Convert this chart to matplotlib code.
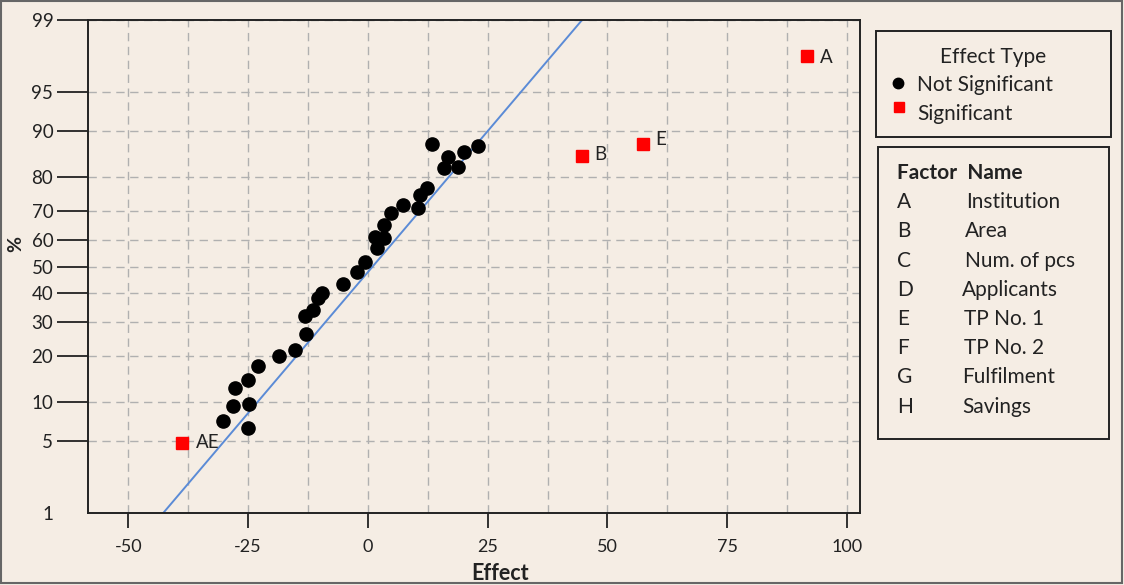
import numpy as np
import matplotlib
matplotlib.use("Agg")
import matplotlib.pyplot as plt
from matplotlib.patches import Rectangle
from statistics import NormalDist

# ---------------- data ----------------
ns_effect = [-30.3, -25.1, -28.2, -24.8, -27.7, -25.0, -23.0, -18.5, -15.1, -13.0,
             -13.1, -11.4, -10.5, -9.6, -5.1, -2.2, -0.6, 1.9, 1.5, 3.3,
             3.3, 4.9, 7.4, 10.4, 10.8, 12.4, 13.4, 15.8, 16.7, 18.8,
             20.0, 22.9]
ns_pct = [7.2, 6.4, 9.4, 9.8, 12.5, 14.2, 17.4, 19.9, 21.6, 26.1,
          32.0, 33.9, 38.4, 40.0, 43.6, 48.1, 51.7, 56.9, 61.0, 60.6,
          65.1, 69.3, 71.8, 71.0, 74.9, 77.2, 87.7, 82.4, 84.9, 82.7,
          86.0, 87.3]

sig_labels = ["A", "B", "E", "AE"]
sig_effect = [91.7, 44.7, 57.4, -38.7]
sig_pct = [97.65, 85.2, 87.7, 4.8]

line_effect = [-42.7, 44.7]
line_pct = [1, 99]

y_ticks = [1, 5, 10, 20, 30, 40, 50, 60, 70, 80, 90, 95, 99]
x_ticks = [-50, -25, 0, 25, 50, 75, 100]

factor_letters = ["A", "B", "C", "D", "E", "F", "G", "H"]
factor_names = ["Institution", "Area", "Num. of pcs", "Applicants",
                "TP No. 1", "TP No. 2", "Fulfilment", "Savings"]

# ---------------- style ----------------
BG = "#f5ede4"
INK = "#222222"
FONT = ["Lato", "DejaVu Sans"]
plt.rcParams["font.family"] = FONT

_nd = NormalDist()
_ppf = np.vectorize(lambda p: _nd.inv_cdf(min(max(p / 100.0, 1e-9), 1 - 1e-9)), otypes=[float])
_cdf = np.vectorize(lambda z: 100.0 * _nd.cdf(z), otypes=[float])


def fwd(p):
    return _ppf(np.asarray(p, dtype=float))


def inv(z):
    return _cdf(np.asarray(z, dtype=float))


W, H = 1124, 585
fig = plt.figure(figsize=(W / 100, H / 100), dpi=100, facecolor=BG)
L, R, T, B = 88, 860, 20, 513
ax = fig.add_axes([L / W, 1 - B / H, (R - L) / W, (B - T) / H], facecolor=BG)

ax.set_yscale("function", functions=(fwd, inv))
ax.set_ylim(1, 99)
ax.set_xlim(-58.4, 102.7)

# ticks & grid
ax.set_xticks(x_ticks)
ax.set_xticks(np.arange(-50, 101, 12.5), minor=True)
ax.set_yticks(y_ticks)
ax.set_yticklabels([str(v) for v in y_ticks])
ax.yaxis.set_minor_locator(matplotlib.ticker.NullLocator())
ax.set_xticklabels([str(v) for v in x_ticks])
ax.grid(True, which="both", axis="x", color="#b0b0b0", linestyle=(0, (6, 4)), linewidth=1.0)
ax.grid(True, which="major", axis="y", color="#b0b0b0", linestyle=(0, (6, 4)), linewidth=1.0)
ax.set_axisbelow(True)

ax.tick_params(axis="y", which="major", direction="out", length=22, width=1.3,
               color=INK, labelsize=13.5, pad=3, labelcolor=INK)
ax.tick_params(axis="x", which="major", direction="out", length=11, width=1.3,
               color=INK, labelsize=13, pad=8, labelcolor=INK)
ax.tick_params(axis="x", which="minor", length=0)
ax.yaxis.get_major_ticks()[0].tick1line.set_visible(False)
for s in ax.spines.values():
    s.set_color(INK)
    s.set_linewidth(1.4)

# fitted line
ax.plot(line_effect, line_pct, color="#5b8bd6", linewidth=1.4, zorder=2)
# points
ax.plot(ns_effect, ns_pct, linestyle="none", marker="o", markersize=9.5,
        color="black", zorder=3)
ax.plot(sig_effect, sig_pct, linestyle="none", marker="s", markersize=8.5,
        color="#ff0000", zorder=3)
offsets = {"A": (9, -1), "B": (9, 1), "E": (9, 3), "AE": (10, 0)}
for lab, xv, yv in zip(sig_labels, sig_effect, sig_pct):
    ax.annotate(lab, (xv, yv), xytext=offsets[lab], textcoords="offset points",
                ha="left", va="center", fontsize=13.5, color=INK)

# axis labels
fig.text(500 / W, 1 - 573 / H, "Effect", ha="center", va="center",
         fontsize=15.5, fontweight="bold", color=INK)
fig.text(16 / W, 1 - 244 / H, "%", ha="center", va="center",
         fontsize=14, fontweight="bold", rotation=90, color=INK)


# legend boxes
def fx(px):
    return px / W


def fy(py):
    return 1 - py / H


LS = 15
fig.patches.append(Rectangle((fx(876), fy(137)), (1111 - 876) / W, (137 - 31) / H,
                             transform=fig.transFigure, fill=False,
                             edgecolor=INK, linewidth=1.4))
fig.text(fx(993), fy(57), "Effect Type", ha="center", va="center", fontsize=LS, color=INK)
fig.text(fx(917), fy(85), "Not Significant", ha="left", va="center", fontsize=LS, color=INK)
fig.text(fx(917), fy(114), "Significant", ha="left", va="center", fontsize=LS, color=INK)
fig.lines.append(matplotlib.lines.Line2D([fx(898)], [fy(83)], transform=fig.transFigure,
                                         marker="o", markersize=7.5, color="black", linestyle="none"))
fig.lines.append(matplotlib.lines.Line2D([fx(899)], [fy(107)], transform=fig.transFigure,
                                         marker="s", markersize=7, color="#ff0000", linestyle="none"))

fig.patches.append(Rectangle((fx(878), fy(439)), (1109 - 878) / W, (439 - 147) / H,
                             transform=fig.transFigure, fill=False,
                             edgecolor=INK, linewidth=1.4))
fig.text(fx(897), fy(173), "Factor  Name", ha="left", va="center", fontsize=LS,
         fontweight="bold", color=INK)
row_y = [202, 231, 261, 290, 319, 348, 377, 407]
name_x = [966, 965, 965, 962, 964, 964, 962, 962]
for letter, name, ry, nx in zip(factor_letters, factor_names, row_y, name_x):
    fig.text(fx(897), fy(ry), letter, ha="left", va="center", fontsize=LS, color=INK)
    fig.text(fx(nx), fy(ry), name, ha="left", va="center", fontsize=LS, color=INK)

# figure border
fig.patches.append(Rectangle((0.001, 0.003), 0.997, 0.995, transform=fig.transFigure,
                             fill=False, edgecolor="#666666", linewidth=1.5))

fig.savefig("out.png", dpi=100, facecolor=BG)
